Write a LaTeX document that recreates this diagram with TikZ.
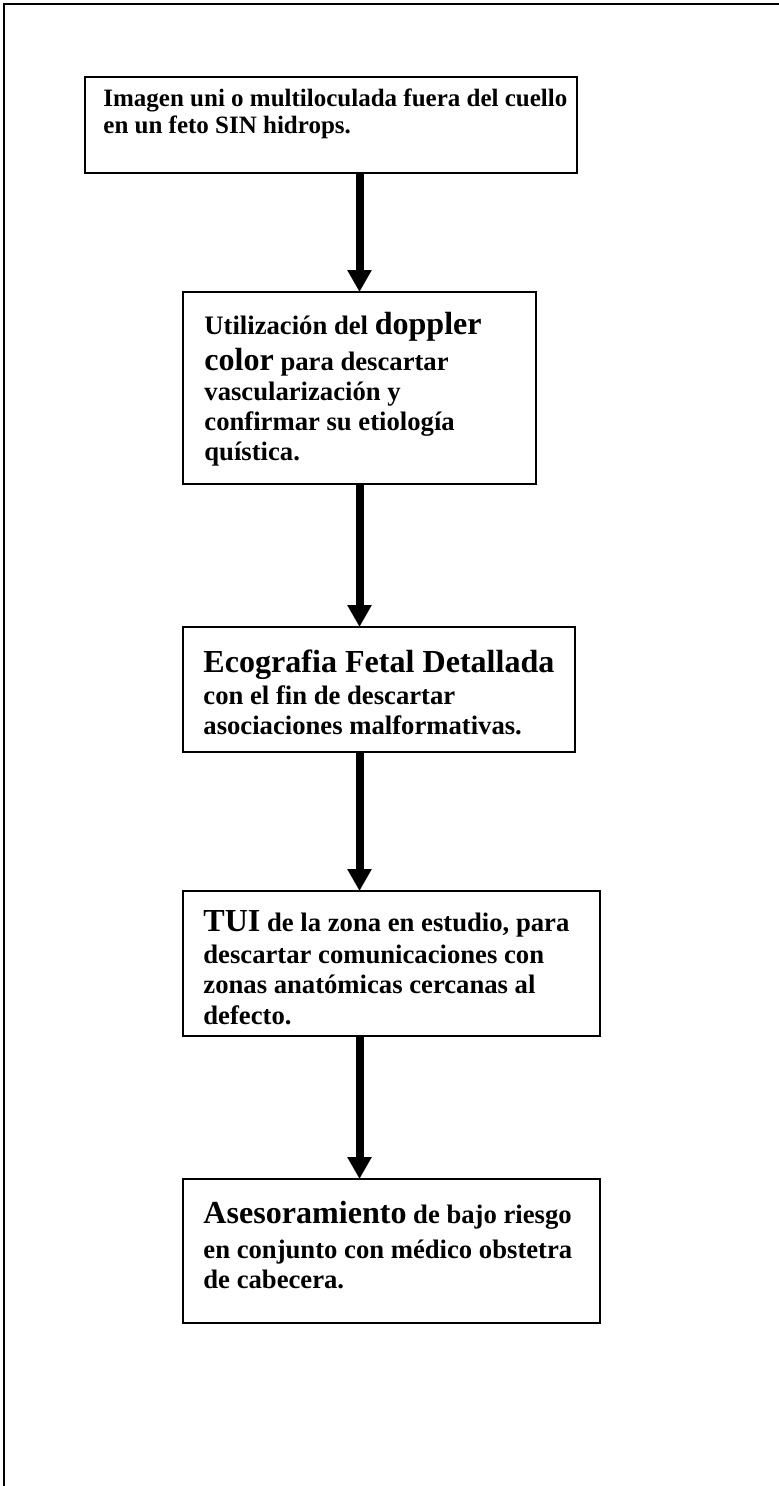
\documentclass[tikz,border=0pt]{standalone}
\usepackage{fontspec}
\setmainfont{Liberation Serif}
\usepackage{tikz}
\usetikzlibrary{arrows.meta}
\definecolor{FlujoNegro}{HTML}{000000}
\newcommand{\realce}[1]{{\fontsize{15.4}{17}\selectfont #1}}
\tikzset{
  caja/.style={draw=FlujoNegro,line width=0.7pt,inner sep=0pt,outer sep=0pt},
  texto/.style={anchor=north west,align=left,inner sep=0pt,font=\fontsize{12.8}{14.5}\selectfont\bfseries},
  flecha/.style={FlujoNegro,line width=3.84pt,-{Triangle[width=11pt,length=10.5pt]}}
}

\begin{document}
\begin{tikzpicture}[x=0.48pt,y=-0.48pt]
\path[use as bounding box] (0,0) rectangle (779,1486);
\draw[FlujoNegro,line width=0.6pt] (4,1486) -- (4,4) -- (779,4);
\node[caja,minimum width=236.16pt,minimum height=46.08pt] (b1) at (331,125) {};
\node[caja,minimum width=169.44pt,minimum height=92.16pt] (b2) at (359.5,388) {};
\node[caja,minimum width=188.16pt,minimum height=60pt] (b3) at (379,689.5) {};
\node[caja,minimum width=200.16pt,minimum height=69.6pt] (b4) at (391.5,963.5) {};
\node[caja,minimum width=200.16pt,minimum height=69.12pt] (b5) at (391.5,1251) {};
\node[texto,font=\fontsize{12}{13}\selectfont\bfseries] (t1) at ([shift={(18,11)}]b1.north west) {Imagen uni o multiloculada fuera del cuello\\en un feto SIN hidrops.};
\node[texto] (t2) at ([shift={(21,20)}]b2.north west) {Utilización del \realce{doppler}\\[2.5pt]\realce{color} para descartar\\vascularización y\\confirmar su etiología\\quística.};
\node[texto] (t3) at ([shift={(20,22)}]b3.north west) {\realce{Ecografia Fetal Detallada}\\[1pt]con el fin de descartar\\asociaciones malformativas.};
\node[texto] (t4) at ([shift={(20,19)}]b4.north west) {\realce{TUI} de la zona en estudio, para\\[1pt]descartar comunicaciones con\\zonas anatómicas cercanas al\\defecto.};
\node[texto] (t5) at ([shift={(20,22)}]b5.north west) {\realce{Asesoramiento} de bajo riesgo\\[2pt]en conjunto con médico obstetra\\de cabecera.};
\draw[flecha] (b1.south -| b2.north) -- (b2.north);
\draw[flecha] (b2.south) -- (b3.north -| b2.south);
\draw[flecha] (b3.south -| b2.south) -- (b4.north -| b2.south);
\draw[flecha] (b4.south -| b2.south) -- (b5.north -| b2.south);
\end{tikzpicture}
\end{document}
